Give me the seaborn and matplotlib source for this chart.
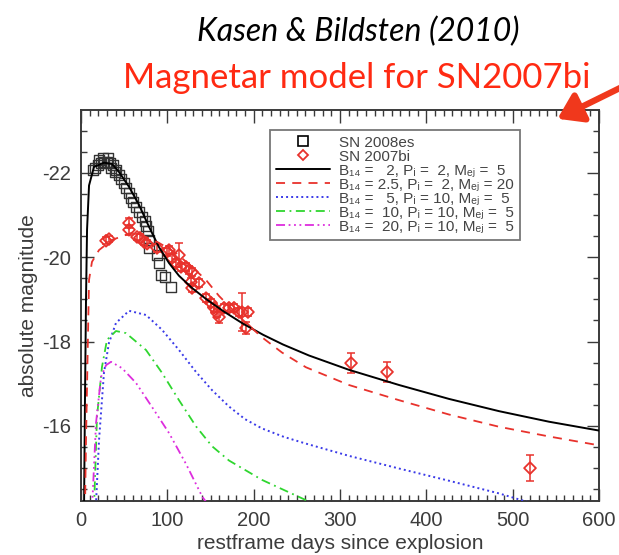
import matplotlib
matplotlib.use("Agg")
import matplotlib.pyplot as plt
import seaborn as sns
import pandas as pd
from matplotlib.patches import FancyArrowPatch
from matplotlib.ticker import MultipleLocator
from matplotlib.lines import Line2D
import matplotlib.patheffects as pe

# ---------------- data ----------------
# SN 2008es (black open squares)
sn08es_day = [13.9, 16.2, 19.7, 20.9, 23.2, 25.5, 26.6, 30.1, 31.3, 33.6, 34.8, 37.1, 39.4,
              40.5, 44.0, 46.3, 49.8, 52.1, 55.6, 57.9, 60.2, 63.7, 67.2, 70.7, 74.1,
              75.3, 77.6, 78.8, 78.8, 88.0, 90.3, 92.7, 97.3, 104.2]
sn08es_mag = [-22.07, -22.12, -22.19, -22.31, -22.24, -22.36, -22.26, -22.26, -22.36, -22.24,
              -22.12, -22.19, -22.02, -22.07, -21.95, -21.86, -21.76, -21.64, -21.53, -21.41,
              -21.31, -21.19, -21.07, -20.96, -20.86, -20.74, -20.62, -20.41, -20.22, -20.05,
              -19.86, -19.58, -19.53, -19.30]

# SN 2007bi (red open diamonds with error bars)
sn07bi_day = [29.0, 32.4, 55.6, 55.6, 64.9, 68.3, 73.0, 76.5, 88.0, 99.6, 101.9, 105.4, 110.0,
              113.5, 115.8, 121.6, 125.1, 128.6, 127.4, 136.7, 128.6, 144.8, 150.6, 154.1,
              157.5, 159.9, 165.6, 171.4, 177.2, 183.0, 186.5, 193.4, 191.1, 312.8, 354.5, 520.1]
sn07bi_mag = [-20.39, -20.43, -20.81, -20.65, -20.48, -20.46, -20.36, -20.32, -20.22, -20.13,
              -20.17, -19.98, -19.86, -20.05, -19.77, -19.77, -19.70, -19.65, -19.41, -19.39,
              -19.27, -19.03, -18.92, -18.80, -18.68, -18.58, -18.80, -18.80, -18.80, -18.70,
              -18.70, -18.70, -18.32, -17.49, -17.28, -15.00]
sn07bi_err = [0.08, 0.08, 0.12, 0.12, 0.08, 0.08, 0.08, 0.08, 0.10, 0.10, 0.10, 0.10, 0.10,
              0.28, 0.10, 0.10, 0.10, 0.10, 0.10, 0.10, 0.10, 0.10, 0.10, 0.10, 0.10, 0.15,
              0.10, 0.10, 0.10, 0.10, 0.44, 0.10, 0.15, 0.24, 0.24, 0.30]

# Model light curves
m1_day = [3.5, 4.6, 5.8, 7.0, 9.3, 15.0, 26.6, 36.0, 44.0, 55.6, 67.2, 78.8, 90.3, 102.0,
          113.5, 128.6, 144.8, 165.6, 188.0, 211.0, 234.0, 264.0, 310.4, 368.4, 426.3,
          484.2, 542.0, 600.0]
m1_mag = [-14.0, -16.6, -19.0, -20.65, -21.7, -22.14, -22.24, -22.21, -22.02, -21.67, -21.24,
          -20.72, -20.24, -19.86, -19.56, -19.27, -19.01, -18.71, -18.42, -18.16, -17.93,
          -17.67, -17.33, -16.97, -16.64, -16.35, -16.10, -15.89]

m2_day = [4.6, 5.8, 9.3, 12.7, 20.9, 35.9, 59.0, 75.3, 90.3, 110.0, 128.6, 144.8, 159.9,
          186.5, 209.7, 232.8, 260.6, 310.4, 368.4, 426.3, 484.2, 542.1, 600.0]
m2_mag = [-14.0, -15.67, -19.46, -19.89, -20.17, -20.41, -20.58, -20.48, -20.34, -20.10,
          -19.77, -19.46, -19.08, -18.53, -18.10, -17.74, -17.39, -16.97, -16.61, -16.27,
          -15.98, -15.75, -15.54]

m3_day = [17.0, 20.9, 26.6, 32.4, 40.5, 55.6, 75.3, 93.8, 113.5, 133.2, 151.7, 171.4, 190.0,
          209.7, 235.0, 260.6, 310.4, 368.4, 426.3, 484.2, 525.0]
m3_mag = [-14.0, -15.67, -17.26, -17.97, -18.44, -18.73, -18.63, -18.28, -17.80, -17.28,
          -16.85, -16.46, -16.16, -15.94, -15.74, -15.58, -15.29, -14.99, -14.70, -14.40,
          -14.15]

m4_day = [15.0, 18.5, 24.3, 30.1, 40.5, 52.1, 75.3, 93.8, 113.5, 133.2, 151.7, 171.4, 209.7,
          260.6, 272.0]
m4_mag = [-14.0, -16.21, -17.40, -18.04, -18.25, -18.20, -17.80, -17.26, -16.61, -15.99,
          -15.52, -15.18, -14.72, -14.24, -14.12]

m5_day = [12.7, 17.4, 23.2, 29.0, 34.8, 47.5, 63.7, 82.2, 102.0, 121.6, 140.5, 152.0]
m5_mag = [-14.0, -16.07, -17.16, -17.44, -17.52, -17.37, -17.02, -16.45, -15.83, -15.10,
          -14.32, -14.0]

labels = ["SN 2008es", "SN 2007bi",
          "B\u2081\u2084 =   2, P\u1d62 =  2, M\u2091\u2c7c =  5",
          "B\u2081\u2084 = 2.5, P\u1d62 =  2, M\u2091\u2c7c = 20",
          "B\u2081\u2084 =   5, P\u1d62 = 10, M\u2091\u2c7c =  5",
          "B\u2081\u2084 =  10, P\u1d62 = 10, M\u2091\u2c7c =  5",
          "B\u2081\u2084 =  20, P\u1d62 = 10, M\u2091\u2c7c =  5"]

title1 = "Kasen & Bildsten (2010)"
title2 = "Magnetar model for SN2007bi"
xlabel = "restframe days since explosion"
ylabel = "absolute magnitude"

# ---------------- style ----------------
sns.set_theme(style="ticks")
plt.rcParams["font.family"] = ["Liberation Sans", "DejaVu Sans"]
plt.rcParams["axes.unicode_minus"] = False

fig = plt.figure(figsize=(6.19, 5.55), dpi=100)
ax = fig.add_axes([81 / 619, 1 - 501 / 555, 518 / 619, 391 / 555])

txt_gray = "#3c3c3c"
frame_gray = "#3a3a3a"

models = [
    (m1_day, m1_mag, "black", "-", 1.4),
    (m2_day, m2_mag, "#e8322c", (0, (5, 4)), 1.3),
    (m3_day, m3_mag, "#3a3ae8", (0, (1, 1.6)), 1.4),
    (m4_day, m4_mag, "#2fd62f", (0, (5, 2.5, 1, 2.5)), 1.3),
    (m5_day, m5_mag, "#dd2ddd", (0, (5, 2, 1, 2, 1, 2, 1, 2)), 1.3),
]

d08 = pd.DataFrame({"day": sn08es_day, "mag": sn08es_mag})
sns.scatterplot(data=d08, x="day", y="mag", ax=ax, marker="s", s=50,
                facecolors="none", edgecolor="#333333", linewidth=1.0, zorder=3)
d07 = pd.DataFrame({"day": sn07bi_day, "mag": sn07bi_mag, "err": sn07bi_err})
ax.errorbar(d07["day"], d07["mag"], yerr=d07["err"], fmt="none", ecolor="#e8322c",
            elinewidth=1.1, capsize=3, capthick=1.1, zorder=4)
sns.scatterplot(data=d07, x="day", y="mag", ax=ax, marker="D", s=36,
                facecolors="none", edgecolor="#e8322c", linewidth=1.3, zorder=5)

for (dd, mm, c, ls, lw) in models:
    dfm = pd.DataFrame({"day": dd, "mag": mm})
    sns.lineplot(data=dfm, x="day", y="mag", ax=ax, sort=False, estimator=None,
                 color=c, linestyle=ls, linewidth=lw, zorder=6)

ax.set_xlim(0, 600)
ax.set_ylim(-14.22, -23.49)
ax.xaxis.set_major_locator(MultipleLocator(100))
ax.xaxis.set_minor_locator(MultipleLocator(10))
ax.yaxis.set_major_locator(MultipleLocator(2))
ax.yaxis.set_minor_locator(MultipleLocator(0.5))
ax.tick_params(which="both", direction="in", top=True, right=True, color=frame_gray,
               labelcolor=txt_gray, labelsize=14.5, width=1.0, pad=7)
ax.tick_params(which="major", length=9)
ax.tick_params(which="minor", length=4.5)
for sp in ax.spines.values():
    sp.set_color(frame_gray)
    sp.set_linewidth(1.4)
ax.set_xlabel(xlabel, fontsize=15, color=txt_gray, labelpad=3)
ax.set_ylabel(ylabel, fontsize=15, color=txt_gray, labelpad=3)

# legend
hs = [Line2D([], [], ls="none", marker="s", mfc="none", mec="black", ms=7, mew=1.2),
      Line2D([], [], ls="none", marker="D", mfc="none", mec="#e8322c", ms=5.5, mew=1.3)]
for (dd, mm, c, ls, lw) in models:
    hs.append(Line2D([], [], color=c, ls=ls, lw=lw))
leg = ax.legend(hs, labels, loc="upper left", bbox_to_anchor=(0.365, 0.95),
                fontsize=11, frameon=True, fancybox=False, handlelength=3.5,
                handletextpad=0.6, labelspacing=0.0, borderpad=0.4,
                borderaxespad=0)
leg.get_frame().set_edgecolor("#555555")
leg.get_frame().set_linewidth(1.3)
for t in leg.get_texts():
    t.set_color("#444444")

# titles
fig.text(358 / 619, 1 - 41 / 555, title1, fontsize=23, style="italic",
         family=["Lato", "DejaVu Sans"], ha="center", va="baseline", color="black")
fig.text(357 / 619, 1 - 88 / 555, title2, fontsize=25,
         family=["Lato", "DejaVu Sans"], ha="center", va="baseline", color="#ff2a12")

# arrow
arr = FancyArrowPatch((624 / 619, 1 - 86 / 555), (555 / 619, 1 - 120 / 555),
                      transform=fig.transFigure, arrowstyle="-|>,head_length=9,head_width=6",
                      mutation_scale=1.6, color="#f0381c", linewidth=4.5,
                      path_effects=[pe.SimplePatchShadow(offset=(1.5, -1.5), alpha=0.3),
                                    pe.Normal()])
fig.add_artist(arr)

fig.savefig("out.png", dpi=100)
